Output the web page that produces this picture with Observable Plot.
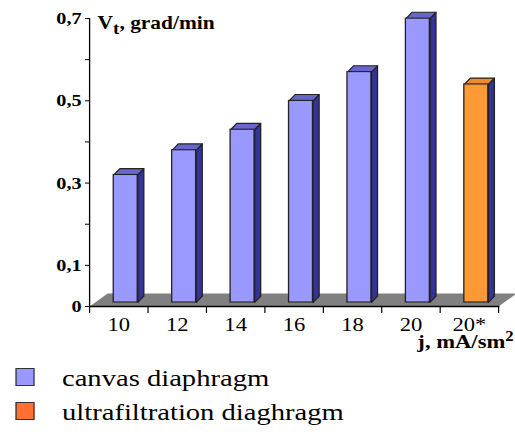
<!DOCTYPE html>
<html>
<head>
<meta charset="utf-8">
<script src="https://cdn.jsdelivr.net/npm/d3@7"></script>
<script src="https://cdn.jsdelivr.net/npm/@observablehq/plot@0.6"></script>
<style>
  html, body { margin: 0; padding: 0; background: #fff; }
  body { width: 515px; height: 432px; overflow: hidden; color: #000; }
  #legend { position: relative; height: 80px; transform-origin: 0 0; }
  .row { position: absolute; left: 0; }
  .sw { position: absolute; border: 1px solid #333; box-sizing: border-box; }
  .lab { position: absolute; white-space: nowrap; }
</style>
</head>
<body>
<div id="chart"></div>
<div id="legend"></div>
<script>
// ---- data ----
const categories = ["10", "12", "14", "16", "18", "20", "20*"];
const values = [0.31, 0.37, 0.42, 0.49, 0.56, 0.69, 0.53];
const seriesOf = [0, 0, 0, 0, 0, 0, 1];
const seriesNames = ["canvas diaphragm", "ultrafiltration diaghragm"];
const frontColors = ["#9999ff", "#ff9933"];
const topColors = ["#6666cc", "#f08a2c"];
const sideColors = ["#333399", "#333399"];
const legendColors = ["#9999ff", "#ff7033"];
const yTickValues = [0, 0.1, 0.2, 0.3, 0.4, 0.5, 0.6, 0.7];
const yLabelValues = [0, 0.1, 0.3, 0.5, 0.7];
const yLabelTexts = ["0", "0,1", "0,3", "0,5", "0,7"];
const yTitle = "Vt, grad/min";
const xTitle = "j, mA/sm2";

// ---- font ----
const ctx = document.createElement("canvas").getContext("2d");
function widthOf(font, txt) { ctx.font = font; return ctx.measureText(txt).width; }
const FONT = `"Liberation Serif", "Times New Roman", Tinos, serif`;

// horizontal stretch so that the legend texts span as in the reference
const legendFont = 24;
const S = (211 + 278) / (widthOf(`${legendFont}px ${FONT}`, seriesNames[0]) + widthOf(`${legendFont}px ${FONT}`, seriesNames[1]));

// ---- pseudo-3D geometry (in data units) ----
const barWidth = 0.41, barShift = 0.12;
const depthX = 0.103, depthY = 0.0155;
const baseY = 0.0097;
const floorDX = 0.308, floorDY = 0.0316;

const W = 515 / S, H = 352;

const bars = categories.map((c, i) => {
  const xl = i + barShift - barWidth / 2, xr = i + barShift + barWidth / 2;
  return {i, c, v: values[i], s: seriesOf[i], xl, xr, base: baseY, top: values[i] + baseY};
});

const tops = bars.flatMap(b => [
  [b.xl, b.top], [b.xr, b.top], [b.xr + depthX, b.top + depthY], [b.xl + depthX, b.top + depthY]
].map(([x, y]) => ({id: b.i, x, y, fill: topColors[b.s]})));

const sides = bars.flatMap(b => [
  [b.xr, b.base], [b.xr, b.top], [b.xr + depthX, b.top + depthY], [b.xr + depthX, b.base + depthY]
].map(([x, y]) => ({id: b.i, x, y, fill: sideColors[b.s]})));

const x0 = -0.5, x1 = categories.length - 0.5;
const floor = [[x0, 0], [x1, 0], [x1 + floorDX, floorDY], [x0 + floorDX, floorDY]].map(([x, y]) => ({x, y}));

const boundaries = d3.range(categories.length + 1).map(k => k - 0.5);

const svg = Plot.plot({
  width: W,
  height: H,
  marginLeft: 89 / S,
  marginRight: 17 / S,
  marginTop: 18,
  marginBottom: 46,
  style: {fontFamily: FONT, fontSize: "17px", color: "#000", background: "#fff"},
  x: {type: "linear", domain: [x0, x1], label: null},
  y: {domain: [0, 0.7], label: null},
  color: {type: "identity"},
  marks: [
    Plot.line(floor, {x: "x", y: "y", curve: "linear-closed", fill: "#808080", stroke: "none"}),
    Plot.line(sides, {x: "x", y: "y", z: "id", curve: "linear-closed", fill: "fill", stroke: "#222", strokeWidth: 1.1}),
    Plot.line(tops, {x: "x", y: "y", z: "id", curve: "linear-closed", fill: "fill", stroke: "#222", strokeWidth: 1.1}),
    Plot.rect(bars, {x1: "xl", x2: "xr", y1: "base", y2: "top", fill: d => frontColors[d.s], stroke: "#222", strokeWidth: 1.1}),
    Plot.frame({anchor: "left", stroke: "#000", strokeWidth: 1.1}),
    Plot.frame({anchor: "bottom", stroke: "#000", strokeWidth: 1.4}),
    Plot.axisY({ticks: yTickValues, tickSize: 4 / S, tickPadding: 4 / S, stroke: "#000",
      tickFormat: d => { const k = yLabelValues.indexOf(d); return k >= 0 ? yLabelTexts[k] : ""; },
      fontWeight: "bold", fontSize: 17, label: null}),
    Plot.axisX({ticks: boundaries, tickSize: 7, tickFormat: () => "", label: null, stroke: "#000"}),
    Plot.axisX({ticks: d3.range(categories.length), tickSize: 0, tickPadding: 11.5,
      tickFormat: k => categories[k], fontSize: 19, label: null}),
    Plot.text([yTitle], {frameAnchor: "top-left", textAnchor: "start", lineAnchor: "bottom",
      dx: 8 / S, dy: 10, fontWeight: "bold", fontSize: 18, fill: "#000"}),
    Plot.text([xTitle], {frameAnchor: "bottom-right", textAnchor: "end", lineAnchor: "bottom",
      dx: 15 / S, dy: 41, fontWeight: "bold", fontSize: 19, fill: "#000"})
  ]
});

// sub/superscripts
d3.select(svg).selectAll("text").filter(function() { return this.textContent === yTitle; })
  .each(function() {
    const t = d3.select(this);
    t.text("V");
    t.append("tspan").attr("dy", 5).attr("font-size", 16).text("t");
    t.append("tspan").attr("dy", -5).text(", grad/min");
  });
d3.select(svg).selectAll("text").filter(function() { return this.textContent === xTitle; })
  .each(function() {
    const t = d3.select(this);
    t.text("j, mA/sm");
    t.append("tspan").attr("dy", -7).attr("font-size", 14).text("2");
  });

svg.setAttribute("preserveAspectRatio", "none");
svg.setAttribute("width", 515);
svg.style.width = "515px";
svg.style.height = H + "px";
svg.style.maxWidth = "none";
svg.style.display = "block";
document.getElementById("chart").appendChild(svg);

// legend (same horizontal stretch)
const legend = document.getElementById("legend");
legend.style.width = W + "px";
legend.style.transform = `scaleX(${S})`;
legend.style.fontFamily = FONT;
const rowTops = [16, 50];
seriesNames.forEach((name, k) => {
  const row = document.createElement("div");
  row.className = "row";
  row.style.top = rowTops[k] + "px";
  const sw = document.createElement("div");
  sw.className = "sw";
  sw.style.background = legendColors[k];
  sw.style.left = (15 / S) + "px";
  sw.style.top = "0px";
  sw.style.width = (19 / S) + "px";
  sw.style.height = "18px";
  const lab = document.createElement("div");
  lab.className = "lab";
  lab.style.left = (62 / S) + "px";
  lab.style.top = "-2px";
  lab.style.fontSize = legendFont + "px";
  lab.style.lineHeight = "24px";
  lab.textContent = name;
  row.appendChild(sw);
  row.appendChild(lab);
  legend.appendChild(row);
});
</script>
</body>
</html>
